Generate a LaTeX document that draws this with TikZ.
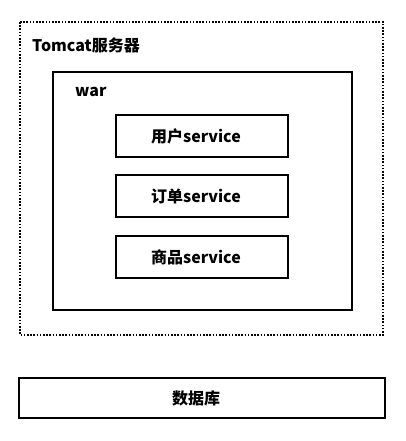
\documentclass[tikz,border=0pt]{standalone}
\usepackage{fontspec}
\setmainfont{Noto Sans CJK SC}
\begin{document}
\begin{tikzpicture}[x=1pt,y=-1pt,
  box/.style={draw=black,line width=2pt},
  dotbox/.style={draw=black,line width=1.8pt,dash pattern=on 1.6pt off 1.6pt},
  lbl/.style={font=\fontsize{16}{18}\selectfont\bfseries,inner sep=0pt},
  svc/.style={box,minimum width=172pt,minimum height=42pt,inner sep=0pt,font=\fontsize{16}{18}\selectfont\bfseries,execute at end node={\kern12pt}}]
\useasboundingbox (0,0) rectangle (406,441);
\draw[dotbox] (20,22) rectangle (383,335);
\node[lbl,anchor=west] (tomcat) at (32,45) {Tomcat服务器};
\draw[box] (53,72) rectangle (352,310);
\node[lbl,anchor=west] (war) at (75,92) {war};
\node[svc] (user) at (202,136) {用户service};
\node[svc] (order) at (202,196) {订单service};
\node[svc] (goods) at (202,257) {商品service};
\node[svc,minimum width=366pt,minimum height=40pt] (db) at (202,398) {数据库};
\end{tikzpicture}
\end{document}
